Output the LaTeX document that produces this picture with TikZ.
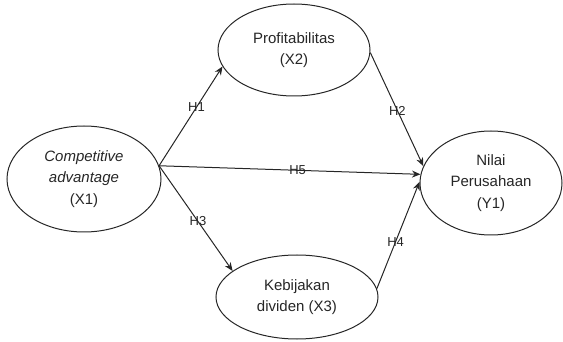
\documentclass[tikz,border=0pt]{standalone}
\usepackage{fontspec}
\setmainfont{Liberation Sans}
\usepackage{tikz}
\usetikzlibrary{shapes.geometric, arrows.meta}
\tikzstyle{latent} = [ellipse, draw=black!85, line width=1pt, inner sep=0pt, text=black!85, align=center, font=\fontsize{15}{21.5}\selectfont]
\tikzstyle{hyp} = [text=black!85, font=\fontsize{13}{15}\selectfont, inner sep=1pt]
\tikzstyle{arrow} = [line width=1pt, draw=black!85, -{Stealth[length=8.5pt,width=7pt]}]

\begin{document}
\begin{tikzpicture}[x=1pt, y=-1pt]
\useasboundingbox (0,0) rectangle (563,342);

\node (x1) [latent, minimum width=154pt, minimum height=106pt] at (84,179) {\textit{Competitive}\\\textit{advantage}\\(X1)};
\node (x2) [latent, minimum width=152pt, minimum height=92pt] at (294,50) {Profitabilitas\\(X2)};
\node (x3) [latent, minimum width=162pt, minimum height=84pt] at (297,297) {Kebijakan\\dividen (X3)};
\node (y1) [latent, minimum width=142pt, minimum height=104pt] at (491,183) {Nilai\\Perusahaan\\(Y1)};

\draw [arrow] (x1.10) -- node[hyp, pos=0.59] {H1} (x2.193);
\draw [arrow] (x2.-2) -- node[hyp, pos=0.51] {H2} (y1.166);
\draw [arrow] (x1.10) -- node[hyp, pos=0.53] {H5} (y1.173);
\draw [arrow] (x1.10) -- node[hyp, pos=0.53] {H3} (x3.158);
\draw [arrow] (x3.6) -- node[hyp, pos=0.44] {H4} (y1.179);

\end{tikzpicture}
\end{document}
